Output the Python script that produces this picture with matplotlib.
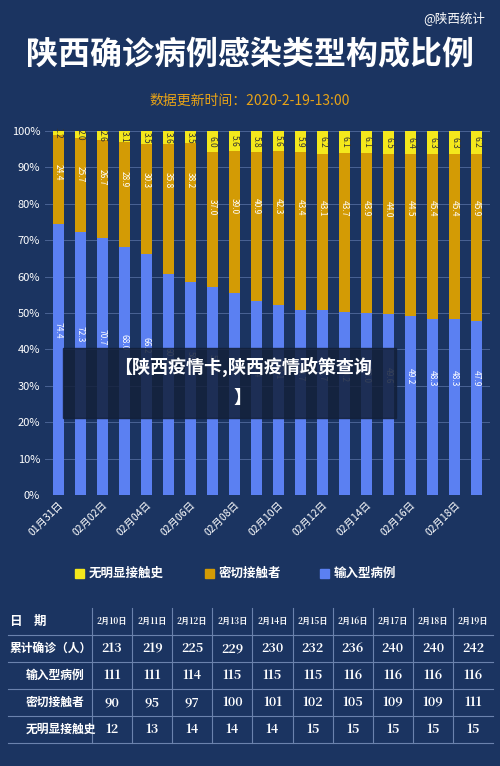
import matplotlib
matplotlib.use('Agg')
import matplotlib.pyplot as plt
import numpy as np

plt.rcParams['font.family'] = ['Noto Sans CJK SC', 'DejaVu Sans']

BG = '#1b3461'
BLUE = '#5b80f2'
ORANGE = '#d39b05'
YELLOW = '#f4e81c'

dates = ['01月31日', '02月01日', '02月02日', '02月03日', '02月04日', '02月05日',
         '02月06日', '02月07日', '02月08日', '02月09日', '02月10日', '02月11日',
         '02月12日', '02月13日', '02月14日', '02月15日', '02月16日', '02月17日',
         '02月18日', '02月19日']
imported = [74.4, 72.3, 70.7, 68.0, 66.2, 60.6, 58.4, 57.1, 55.4, 53.4,
            52.1, 50.7, 50.7, 50.2, 50.0, 49.6, 49.2, 48.3, 48.3, 47.9]
contact = [24.4, 25.7, 26.7, 28.9, 30.3, 35.8, 38.2, 37.0, 39.0, 40.9,
           42.3, 43.4, 43.1, 43.7, 43.9, 44.0, 44.5, 45.4, 45.4, 45.9]
unknown = [1.2, 2.0, 2.6, 3.1, 3.5, 3.6, 3.5, 6.0, 5.6, 5.8,
           5.6, 5.9, 6.2, 6.1, 6.1, 6.5, 6.4, 6.3, 6.3, 6.2]

tbl_dates = ['2月10日', '2月11日', '2月12日', '2月13日', '2月14日',
             '2月15日', '2月16日', '2月17日', '2月18日', '2月19日']
tbl_total = [213, 219, 225, 229, 230, 232, 236, 240, 240, 242]
tbl_imported = [111, 111, 114, 115, 115, 115, 116, 116, 116, 116]
tbl_contact = [90, 95, 97, 100, 101, 102, 105, 109, 109, 111]
tbl_unknown = [12, 13, 14, 14, 14, 15, 15, 15, 15, 15]

W, H = 500, 766
fig = plt.figure(figsize=(W / 100, H / 100), dpi=100, facecolor=BG)

fig.text(0.5, 1 - 55 / H, '陕西确诊病例感染类型构成比例', color='white',
         fontsize=23, fontweight='bold', ha='center', va='center')
fig.text(0.5, 1 - 101 / H, '数据更新时间：2020-2-19-13:00', color='#e8a317',
         fontsize=10, ha='center', va='center')
fig.text(0.97, 1 - 18 / H, '@陕西统计', color='white', fontsize=9,
         ha='right', va='center')

ax = fig.add_axes([45 / W, 1 - 495 / H, 445 / W, 364 / H])
ax.set_facecolor(BG)
x = np.arange(len(dates))
imp = np.array(imported)
con = np.array(contact)
unk = np.array(unknown)
ax.bar(x, imp, width=0.5, color=BLUE, zorder=2)
ax.bar(x, con, width=0.5, bottom=imp, color=ORANGE, zorder=2)
ax.bar(x, unk, width=0.5, bottom=imp + con, color=YELLOW, zorder=2)
for i in x:
    ax.text(i, imp[i] / 2 + 8, f'{imp[i]:.1f}', rotation=270, color='white',
            fontsize=6, ha='center', va='center', zorder=3)
    ax.text(i, imp[i] + con[i] - 10 - (i > 6) * 5, f'{con[i]:.1f}', rotation=270,
            color='white', fontsize=6, ha='center', va='center', zorder=3)
    ax.text(i, 100 - unk[i] / 2, f'{unk[i]:.1f}', rotation=270, color='#333333',
            fontsize=6, ha='center', va='center', zorder=3)
ax.set_xlim(-0.6, len(dates) - 0.4)
ax.set_ylim(0, 100)
ax.set_yticks(range(0, 101, 10))
ax.set_yticklabels([f'{v}%' for v in range(0, 101, 10)], color='white', fontsize=8)
ax.set_xticks(x[::2])
ax.set_xticklabels(dates[::2], rotation=45, ha='right', rotation_mode='anchor',
                   color='white', fontsize=7.5)
ax.grid(axis='y', color='#4a6394', lw=0.7, zorder=0)
for s in ax.spines.values():
    s.set_visible(False)
ax.tick_params(length=0)

# overlay caption
fig.patches.append(plt.Rectangle((63 / W, 1 - 418 / H), 333 / W, 70 / H,
                                 transform=fig.transFigure, color='#13203a',
                                 alpha=0.85, zorder=5))
fig.text(0.485, 1 - 367 / H, '【陕西疫情卡,陕西疫情政策查询', color='white',
         fontsize=13, fontweight='bold', ha='center', va='center', zorder=6)
fig.text(0.485, 1 - 397 / H, '】', color='white', fontsize=13,
         fontweight='bold', ha='center', va='center', zorder=6)

# legend
for lx, col, lab in [(75, YELLOW, '无明显接触史'), (205, ORANGE, '密切接触者'),
                     (320, BLUE, '输入型病例')]:
    fig.patches.append(plt.Rectangle((lx / W, 1 - 578 / H), 9 / W, 9 / H,
                                     transform=fig.transFigure, color=col))
    fig.text((lx + 14) / W, 1 - 573 / H, lab, color='white', fontsize=9,
             fontweight='bold', va='center')

# table
rows = [('日    期', tbl_dates), ('累计确诊（人）', tbl_total),
        ('输入型病例', tbl_imported), ('密切接触者', tbl_contact),
        ('无明显接触史', tbl_unknown)]
top, rh = 608, 27
x0, xsplit, x1 = 8, 92, 493
cw = (x1 - xsplit) / 10
lc = '#6b82ad'
for r, (name, vals) in enumerate(rows):
    yc = 1 - (top + rh * r + rh / 2) / H
    indent = 18 if r >= 2 else 2
    fig.text((x0 + indent) / W, yc, name, color='white', fontsize=8.5 if r else 9,
             fontweight='bold', va='center')
    for c, v in enumerate(vals):
        fig.text((xsplit + cw * (c + 0.5)) / W, yc, str(v), color='white',
                 fontsize=6 if r == 0 else 9, fontweight='bold',
                 ha='center', va='center', family=['Noto Serif CJK SC', 'Noto Sans CJK SC', 'DejaVu Serif'])
    yb = 1 - (top + rh * (r + 1)) / H
    fig.add_artist(plt.Line2D([x0 / W, x1 / W], [yb, yb], color=lc, lw=0.8))
for c in range(10):
    xv = (xsplit + cw * c) / W
    fig.add_artist(plt.Line2D([xv, xv], [1 - top / H, 1 - (top + rh * 5) / H],
                              color=lc, lw=0.8))

fig.savefig('out.png', dpi=100, facecolor=BG)
